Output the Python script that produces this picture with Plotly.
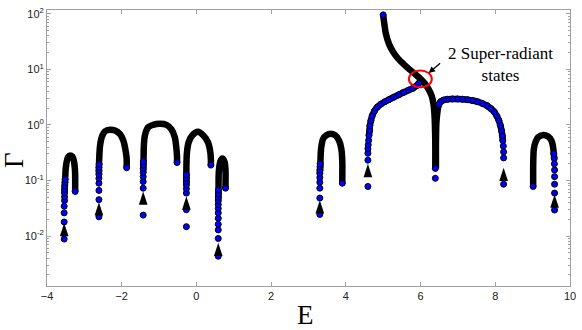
import math
import plotly.graph_objects as go

# Trajectories of the eigenvalues in the (E, Gamma) plane.
# *_line : dense part of a trajectory (overlapping points, drawn as a thick black band)
# *_dots : individually visible points
arc1_line = [(-3.53, 0.0597), (-3.523, 0.081), (-3.512, 0.113), (-3.499, 0.163), (-3.472, 0.217),
             (-3.432, 0.266), (-3.379, 0.283), (-3.326, 0.27), (-3.286, 0.235), (-3.259, 0.177),
             (-3.246, 0.127), (-3.246, 0.092), (-3.246, 0.0635)]
arc1_dots = [(-3.54, 0.0088), (-3.54, 0.0179), (-3.54, 0.0261), (-3.54, 0.0344), (-3.53, 0.0435),
             (-3.53, 0.0507), (-3.53, 0.0597), (-3.53, 0.0689), (-3.525, 0.0796), (-3.52, 0.0918),
             (-3.515, 0.1038), (-3.246, 0.0635)]

arc2_line = [(-2.61, 0.129), (-2.607, 0.195), (-2.598, 0.285), (-2.579, 0.429), (-2.534, 0.603),
             (-2.446, 0.769), (-2.313, 0.818), (-2.180, 0.792), (-2.046, 0.681), (-1.958, 0.526),
             (-1.905, 0.373), (-1.868, 0.248), (-1.868, 0.1695)]
arc2_dots = [(-2.61, 0.0222), (-2.61, 0.0452), (-2.61, 0.0662), (-2.61, 0.0891), (-2.61, 0.1094),
             (-2.61, 0.1288), (-2.61, 0.150), (-2.61, 0.172), (-2.605, 0.195), (-1.868, 0.1695)]

arc3_line = [(-1.425, 0.14), (-1.415, 0.248), (-1.407, 0.429), (-1.380, 0.646), (-1.292, 0.906),
             (-1.159, 1.004), (-0.980, 1.047), (-0.802, 1.004), (-0.668, 0.835), (-0.580, 0.603),
             (-0.535, 0.373), (-0.519, 0.266), (-0.519, 0.2104)]
arc3_dots = [(-1.425, 0.0238), (-1.425, 0.0727), (-1.425, 0.0955), (-1.425, 0.1173), (-1.425, 0.140),
             (-1.425, 0.1648), (-1.422, 0.1915), (-1.42, 0.220), (-0.519, 0.2104)]

arc4_line = [(-0.269, 0.083), (-0.269, 0.1094), (-0.269, 0.1648), (-0.253, 0.326), (-0.207, 0.491),
             (-0.119, 0.640), (0.041, 0.754), (0.193, 0.640), (0.307, 0.491), (0.371, 0.326),
             (0.387, 0.2323), (0.387, 0.1892)]
arc4_dots = [(-0.269, 0.01475), (-0.269, 0.0298), (-0.269, 0.0593), (-0.269, 0.0710), (-0.269, 0.0835),
             (-0.269, 0.0955), (-0.269, 0.110), (-0.267, 0.127), (0.387, 0.1892)]

arc5_line = [(0.586, 0.0431), (0.592, 0.0727), (0.600, 0.1439), (0.638, 0.2168), (0.691, 0.248),
             (0.752, 0.2168), (0.779, 0.1439), (0.779, 0.0955), (0.779, 0.0727)]
arc5_dots = [(0.584, 0.00432), (0.584, 0.00903), (0.584, 0.0129), (0.584, 0.01627), (0.584, 0.0208),
             (0.584, 0.0261), (0.584, 0.0313), (0.584, 0.0369), (0.584, 0.0431), (0.586, 0.0499),
             (0.588, 0.0578), (0.59, 0.0673), (0.779, 0.0727)]

arc6_line = [(3.303, 0.134), (3.319, 0.1892), (3.322, 0.248), (3.337, 0.373), (3.391, 0.562),
             (3.479, 0.653), (3.596, 0.695), (3.711, 0.653), (3.817, 0.526), (3.878, 0.373),
             (3.905, 0.2168), (3.905, 0.1256), (3.905, 0.0891)]
arc6_dots = [(3.303, 0.0245), (3.303, 0.0483), (3.303, 0.0727), (3.303, 0.0929), (3.303, 0.1127),
             (3.303, 0.1343), (3.305, 0.1543), (3.307, 0.1766), (3.31, 0.1995), (3.905, 0.0891)]

# super-radiant branch rising from E = 4.6 up to the crossing
arc7_line = [(4.617, 0.646), (4.635, 0.792), (4.643, 0.973), (4.670, 1.192), (4.705, 1.462),
             (4.763, 1.78), (4.843, 2.10), (4.937, 2.37), (5.043, 2.62), (5.150, 2.85), (5.283, 3.16),
             (5.416, 3.50), (5.549, 3.87), (5.683, 4.24), (5.789, 4.56), (5.883, 5.05), (5.950, 5.59),
             (6.003, 6.32)]
arc7_dots = [(4.590, 0.0780), (4.590, 0.2323), (4.590, 0.309), (4.590, 0.373), (4.598, 0.4395),
             (4.609, 0.526), (4.617, 0.646), (4.635, 0.792), (4.643, 0.973), (4.670, 1.192),
             (4.705, 1.462), (4.763, 1.78), (4.843, 2.10), (4.937, 2.37), (5.043, 2.62), (5.150, 2.85),
             (5.283, 3.16), (5.416, 3.50), (5.549, 3.87), (5.683, 4.24), (5.789, 4.56), (5.883, 5.05),
             (5.950, 5.59)]

# branch coming from the top through the crossing down to E = 6.4
arc8_line = [(4.998, 96.0), (5.030, 66.4), (5.070, 44.2), (5.150, 29.3), (5.256, 21.1), (5.390, 15.9),
             (5.549, 12.4), (5.709, 9.92), (5.869, 8.09), (6.003, 6.72), (6.123, 5.48), (6.216, 4.38),
             (6.296, 3.36), (6.349, 2.32), (6.376, 1.365), (6.389, 0.739), (6.395, 0.400),
             (6.395, 0.2168), (6.395, 0.1648)]
arc8_dots = [(4.998, 96.0), (6.395, 0.1648), (6.395, 0.1094)]

arc9_line = [(8.201, 0.522), (8.188, 0.640), (8.169, 0.785), (8.135, 0.984), (8.095, 1.207),
             (8.041, 1.451), (7.975, 1.709), (7.881, 1.972), (7.775, 2.23), (7.655, 2.44), (7.521, 2.62),
             (7.388, 2.76), (7.255, 2.85), (7.121, 2.91), (6.988, 2.94), (6.855, 2.94), (6.722, 2.91),
             (6.615, 2.81), (6.535, 2.62), (6.490, 2.32), (6.464, 1.972), (6.443, 1.542), (6.424, 1.112),
             (6.416, 0.739), (6.411, 0.452), (6.411, 0.266), (6.411, 0.1648)]
arc9_dots = [(8.223, 0.0857), (8.223, 0.255), (8.223, 0.326), (8.215, 0.417), (8.201, 0.522),
             (8.188, 0.640), (8.169, 0.785), (8.135, 0.984), (8.095, 1.207), (8.041, 1.451),
             (7.975, 1.709), (7.881, 1.972), (7.775, 2.23), (7.655, 2.44), (7.521, 2.62), (7.388, 2.76),
             (7.255, 2.85), (7.121, 2.91), (6.988, 2.94), (6.855, 2.94), (6.722, 2.91), (6.615, 2.81),
             (6.535, 2.62), (6.490, 2.32)]

arc10_line = [(9.579, 0.248), (9.566, 0.304), (9.547, 0.400), (9.502, 0.526), (9.414, 0.620),
              (9.281, 0.662), (9.148, 0.603), (9.076, 0.491), (9.033, 0.373), (9.020, 0.266),
              (9.014, 0.1766), (9.014, 0.1173), (9.014, 0.0780)]
arc10_dots = [(9.587, 0.0294), (9.587, 0.0593), (9.587, 0.0857), (9.587, 0.1173), (9.587, 0.1543),
              (9.582, 0.1995), (9.579, 0.248), (9.566, 0.304), (9.014, 0.0780)]

# arrow heads showing the direction of increasing coupling (tip position)
arrow_E = [-3.54, -2.61, -1.425, -0.269, 0.584, 3.303, 4.59, 8.223, 9.587]
arrow_G = [0.0172, 0.0405, 0.0635, 0.0518, 0.00757, 0.0440, 0.1995, 0.1695, 0.0562]

# ellipse around the two super-radiant states
ring_E = [5.688, 6.301]
ring_G = [4.75, 9.53]

x_ticks = [-4, -2, 0, 2, 4, 6, 8, 10]
y_ticks = [0.01, 0.1, 1, 10, 100]
y_ticktext = ['10<sup>-2</sup>', '10<sup>-1</sup>', '10<sup>0</sup>', '10<sup>1</sup>', '10<sup>2</sup>']

lines = [arc1_line, arc2_line, arc3_line, arc4_line, arc5_line,
         arc6_line, arc7_line, arc8_line, arc9_line, arc10_line]
dots = [arc1_dots, arc2_dots, arc3_dots, arc4_dots, arc5_dots,
        arc6_dots, arc7_dots, arc8_dots, arc9_dots, arc10_dots]

fig = go.Figure()

for pts in lines:
    fig.add_trace(go.Scatter(x=[p[0] for p in pts], y=[p[1] for p in pts], mode='lines',
                             line=dict(color='black', width=6.5, shape='spline', smoothing=1),
                             hoverinfo='skip'))

all_dots = [p for d in dots for p in d]
fig.add_trace(go.Scatter(x=[p[0] for p in all_dots], y=[p[1] for p in all_dots], mode='markers',
                         marker=dict(size=6, color='#0000ff', line=dict(color='black', width=1))))

fig.add_trace(go.Scatter(x=arrow_E, y=arrow_G, mode='markers',
                         marker=dict(symbol='arrow', size=14, color='black', line=dict(width=0))))

fig.add_shape(type='circle', xref='x', yref='y', x0=ring_E[0], x1=ring_E[1], y0=ring_G[0], y1=ring_G[1],
              line=dict(color='#ff0000', width=2))

# pointer and label
fig.add_annotation(x=6.216, y=math.log10(8.6), ax=13, ay=-11, text='', showarrow=True,
                   arrowhead=2, arrowsize=1, arrowwidth=1.3, arrowcolor='black')
fig.add_annotation(x=8.15, y=1.09, text='2 Super-radiant<br>states', showarrow=False,
                   font=dict(family='Liberation Serif', size=17, color='black'),
                   xanchor='center', yanchor='middle')

# axis titles
fig.add_annotation(xref='paper', yref='paper', x=0.495, y=-0.105, text='E', showarrow=False,
                   font=dict(family='Liberation Serif', size=27, color='black'),
                   xanchor='center', yanchor='middle')
fig.add_annotation(xref='paper', yref='paper', x=-0.062, y=0.455, text='Γ', showarrow=False,
                   textangle=-90, font=dict(family='Liberation Serif', size=27, color='black'),
                   xanchor='center', yanchor='middle')

axis_grey = '#a0a0a0'
fig.update_layout(
    width=582, height=330,
    margin=dict(l=47, r=10, t=6, b=44),
    paper_bgcolor='white', plot_bgcolor='white',
    showlegend=False,
    font=dict(family='Liberation Sans, Arial', size=11, color='#222222'),
)
fig.update_xaxes(range=[-4, 10], tickvals=x_ticks, ticks='inside', ticklen=4, tickcolor=axis_grey,
                 showline=True, linecolor=axis_grey, linewidth=1, mirror='ticks',
                 showgrid=False, zeroline=False, tickfont=dict(size=11))
fig.update_yaxes(type='log', range=[-2.9, 2.07], tickvals=y_ticks, ticktext=y_ticktext,
                 ticks='inside', ticklen=4, tickcolor=axis_grey,
                 minor=dict(ticks='inside', ticklen=2, tickcolor=axis_grey,
                            tickvals=[m * 10 ** k for k in range(-3, 2) for m in range(2, 10)]),
                 showline=True, linecolor=axis_grey, linewidth=1, mirror='allticks',
                 showgrid=False, zeroline=False, tickfont=dict(size=11))

# the page's default body margin would shift the 582x330 figure out of the window
fig.write_html("out.html", config={'displayModeBar': False},
               post_script="document.body.style.margin='0';")
